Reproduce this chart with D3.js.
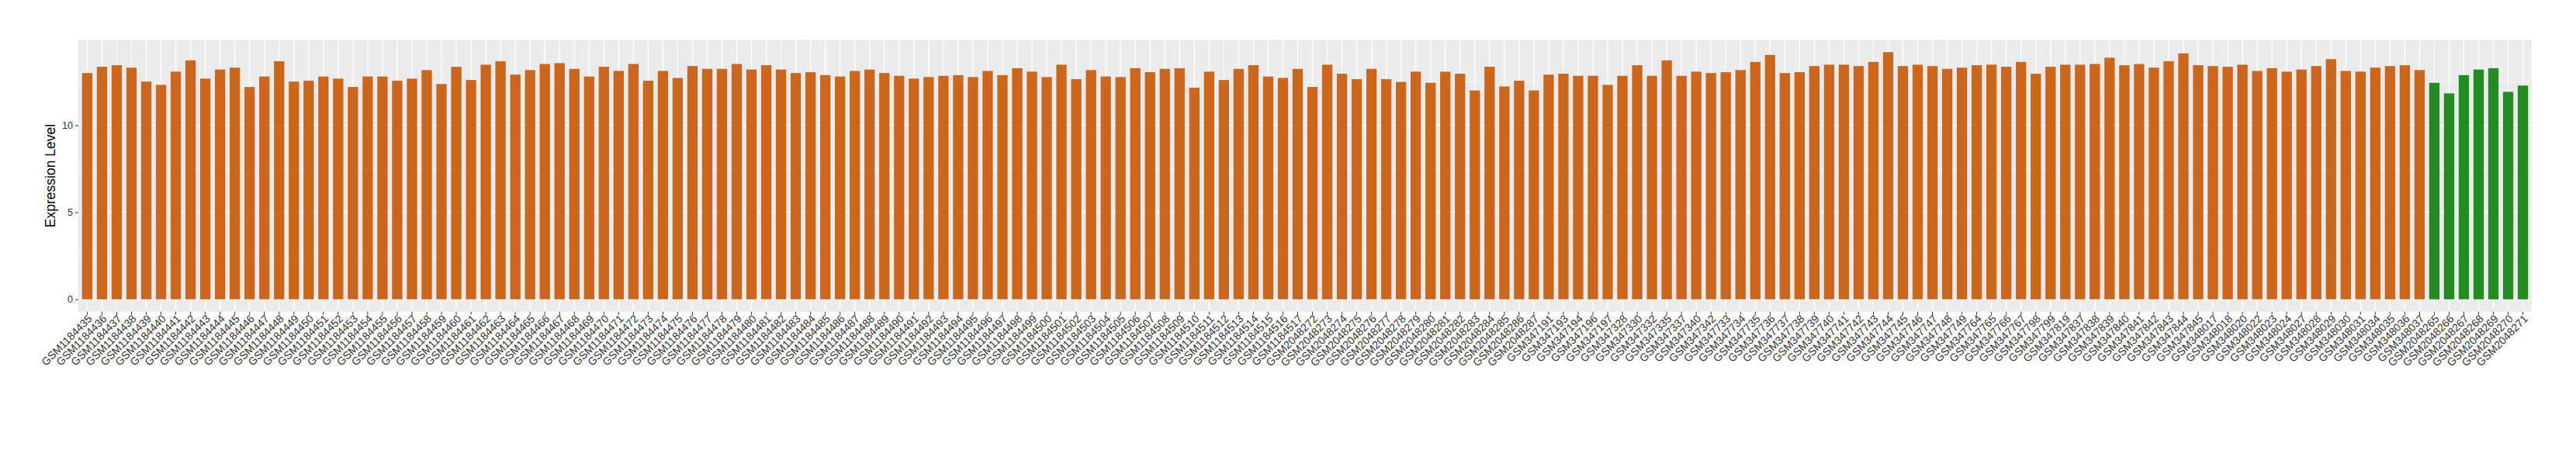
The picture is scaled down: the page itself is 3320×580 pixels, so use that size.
<!DOCTYPE html>
<html>
<head>
<meta charset="utf-8">
<script src="https://cdn.jsdelivr.net/npm/d3@7"></script>
<style>
  body { margin: 0; background: #fff; }
  svg { display: block; font-family: "Liberation Sans", Arial, Helvetica, sans-serif; }
</style>
</head>
<body>
<div id="chart"></div>
<script>
const samples = [
  'GSM1184435','GSM1184436','GSM1184437','GSM1184438','GSM1184439','GSM1184440','GSM1184441','GSM1184442','GSM1184443','GSM1184444',
  'GSM1184445','GSM1184446','GSM1184447','GSM1184448','GSM1184449','GSM1184450','GSM1184451','GSM1184452','GSM1184453','GSM1184454',
  'GSM1184455','GSM1184456','GSM1184457','GSM1184458','GSM1184459','GSM1184460','GSM1184461','GSM1184462','GSM1184463','GSM1184464',
  'GSM1184465','GSM1184466','GSM1184467','GSM1184468','GSM1184469','GSM1184470','GSM1184471','GSM1184472','GSM1184473','GSM1184474',
  'GSM1184475','GSM1184476','GSM1184477','GSM1184478','GSM1184479','GSM1184480','GSM1184481','GSM1184482','GSM1184483','GSM1184484',
  'GSM1184485','GSM1184486','GSM1184487','GSM1184488','GSM1184489','GSM1184490','GSM1184491','GSM1184492','GSM1184493','GSM1184494',
  'GSM1184495','GSM1184496','GSM1184497','GSM1184498','GSM1184499','GSM1184500','GSM1184501','GSM1184502','GSM1184503','GSM1184504',
  'GSM1184505','GSM1184506','GSM1184507','GSM1184508','GSM1184509','GSM1184510','GSM1184511','GSM1184512','GSM1184513','GSM1184514',
  'GSM1184515','GSM1184516','GSM1184517',
  'GSM2048272','GSM2048273','GSM2048274','GSM2048275','GSM2048276','GSM2048277','GSM2048278','GSM2048279','GSM2048280','GSM2048281',
  'GSM2048282','GSM2048283','GSM2048284','GSM2048285','GSM2048286','GSM2048287',
  'GSM347191','GSM347193','GSM347194','GSM347196','GSM347197',
  'GSM347328','GSM347330','GSM347332','GSM347335','GSM347337','GSM347340','GSM347342',
  'GSM347733','GSM347734','GSM347735','GSM347736','GSM347737','GSM347738','GSM347739','GSM347740','GSM347741','GSM347742',
  'GSM347743','GSM347744','GSM347745','GSM347746','GSM347747','GSM347748','GSM347749',
  'GSM347764','GSM347765','GSM347766','GSM347767','GSM347798','GSM347799','GSM347819',
  'GSM347837','GSM347838','GSM347839','GSM347840','GSM347841','GSM347842','GSM347843','GSM347844','GSM347845',
  'GSM348017','GSM348018','GSM348020','GSM348022','GSM348023','GSM348024','GSM348027','GSM348028','GSM348029','GSM348030',
  'GSM348031','GSM348034','GSM348035','GSM348036','GSM348037',
  'GSM2048265','GSM2048266','GSM2048267','GSM2048268','GSM2048269','GSM2048270','GSM2048271'
];

const values = [
  13.00, 13.36, 13.45, 13.31, 12.51, 12.32, 13.08, 13.73, 12.68, 13.20,
  13.31, 12.20, 12.80, 13.68, 12.51, 12.56, 12.80, 12.68, 12.20, 12.80,
  12.80, 12.56, 12.68, 13.17, 12.37, 13.36, 12.60, 13.48, 13.68, 12.91,
  13.17, 13.52, 13.57, 13.24, 12.80, 13.36, 13.12, 13.52, 12.56, 13.12,
  12.72, 13.40, 13.24, 13.24, 13.52, 13.20, 13.45, 13.20, 13.00, 13.05,
  12.88, 12.80, 13.12, 13.20, 13.00, 12.84, 12.68, 12.77, 12.84, 12.88,
  12.77, 13.12, 12.88, 13.28, 13.08, 12.77, 13.48, 12.65, 13.17, 12.80,
  12.77, 13.28, 13.05, 13.24, 13.28, 12.16, 13.08, 12.60, 13.24, 13.45,
  12.80, 12.72, 13.24,
  12.20, 13.48, 12.96, 12.65, 13.24, 12.65, 12.49, 13.08, 12.44, 13.08,
  12.96, 12.00, 13.36, 12.23, 12.56, 12.00,
  12.91, 12.96, 12.84, 12.84, 12.32,
  12.84, 13.45, 12.84, 13.73, 12.84, 13.08, 13.00,
  13.05, 13.17, 13.64, 14.04, 13.00, 13.05, 13.40, 13.48, 13.48, 13.40,
  13.64, 14.20, 13.40, 13.48, 13.40, 13.24, 13.31,
  13.45, 13.48, 13.36, 13.64, 12.96, 13.36, 13.48,
  13.48, 13.52, 13.88, 13.45, 13.52, 13.31, 13.68, 14.13, 13.45,
  13.40, 13.36, 13.48, 13.12, 13.28, 13.08, 13.20, 13.40, 13.80, 13.12,
  13.08, 13.31, 13.40, 13.45, 13.17,
  12.44, 11.83, 12.88, 13.20, 13.28, 11.92, 12.28
];

// samples drawn in the second colour
const normalSamples = ['GSM2048265','GSM2048266','GSM2048267','GSM2048268','GSM2048269','GSM2048270','GSM2048271'];

const yTicks = [0, 5, 10];
const yMinorTicks = [2.5, 7.5, 12.5];
const yTitle = 'Expression Level';

const W = 3320, H = 580;
const margin = { left: 101, right: 57, top: 51.3, bottom: 178.3 };

const data = samples.map((s, i) => ({ sample: s, value: values[i], group: normalSamples.includes(s) ? 'normal' : 'tumor' }));

const svg = d3.select('#chart').append('svg')
  .attr('width', W)
  .attr('height', H);

const x = d3.scaleBand()
  .domain(samples)
  .range([margin.left, W - margin.right])
  .paddingInner(0.3)
  .paddingOuter(0.25);

const yMax = d3.max(values);
const expand = yMax * 0.05;
const y = d3.scaleLinear()
  .domain([-expand, yMax + expand])
  .range([H - margin.bottom, margin.top]);

const color = d3.scaleOrdinal().domain(['tumor', 'normal']).range(['#CD661D', '#228B22']);

// panel
svg.append('rect')
  .attr('x', margin.left)
  .attr('y', margin.top)
  .attr('width', W - margin.left - margin.right)
  .attr('height', H - margin.top - margin.bottom)
  .attr('fill', '#EBEBEB');

const grid = svg.append('g').attr('class', 'grid');

grid.selectAll('.minor')
  .data(yMinorTicks)
  .enter().append('line')
  .attr('x1', margin.left).attr('x2', W - margin.right)
  .attr('y1', d => y(d)).attr('y2', d => y(d))
  .attr('stroke', '#fff').attr('stroke-width', 0.6);

grid.selectAll('.major-y')
  .data(yTicks)
  .enter().append('line')
  .attr('x1', margin.left).attr('x2', W - margin.right)
  .attr('y1', d => y(d)).attr('y2', d => y(d))
  .attr('stroke', '#fff').attr('stroke-width', 1.2);

grid.selectAll('.major-x')
  .data(samples)
  .enter().append('line')
  .attr('x1', d => x(d) + x.bandwidth() / 2).attr('x2', d => x(d) + x.bandwidth() / 2)
  .attr('y1', margin.top).attr('y2', H - margin.bottom)
  .attr('stroke', '#fff').attr('stroke-width', 1.2);

// bars
svg.append('g')
  .selectAll('rect')
  .data(data)
  .enter().append('rect')
  .attr('x', d => x(d.sample))
  .attr('y', d => y(d.value))
  .attr('width', x.bandwidth())
  .attr('height', d => y(0) - y(d.value))
  .attr('fill', d => color(d.group));

// y axis
const yAxis = d3.axisLeft(y)
  .tickValues(yTicks)
  .tickSize(4)
  .tickPadding(3);

const yg = svg.append('g')
  .attr('transform', `translate(${margin.left},0)`)
  .call(yAxis);
yg.select('.domain').remove();
yg.selectAll('.tick line').attr('stroke', '#333').attr('stroke-width', 1);
yg.selectAll('.tick text').attr('fill', '#333').style('font-size', '12.5px');

// x axis
const xAxis = d3.axisBottom(x)
  .tickSize(4)
  .tickPadding(2);

const xg = svg.append('g')
  .attr('transform', `translate(0,${H - margin.bottom})`)
  .call(xAxis);
xg.select('.domain').remove();
xg.selectAll('.tick line').attr('stroke', '#333').attr('stroke-width', 1);
xg.selectAll('.tick text')
  .attr('fill', '#333')
  .style('font-size', '14px')
  .style('text-anchor', 'end')
  .attr('x', 0)
  .attr('y', 0)
  .attr('dy', '0.72em')
  .attr('transform', 'translate(0,3) rotate(-45)');

// axis title
svg.append('text')
  .attr('transform', `translate(65,${(margin.top + H - margin.bottom) / 2}) rotate(-90)`)
  .attr('text-anchor', 'middle')
  .attr('dy', '0.35em')
  .style('font-size', '17.5px')
  .attr('fill', '#000')
  .text(yTitle);
</script>
</body>
</html>
